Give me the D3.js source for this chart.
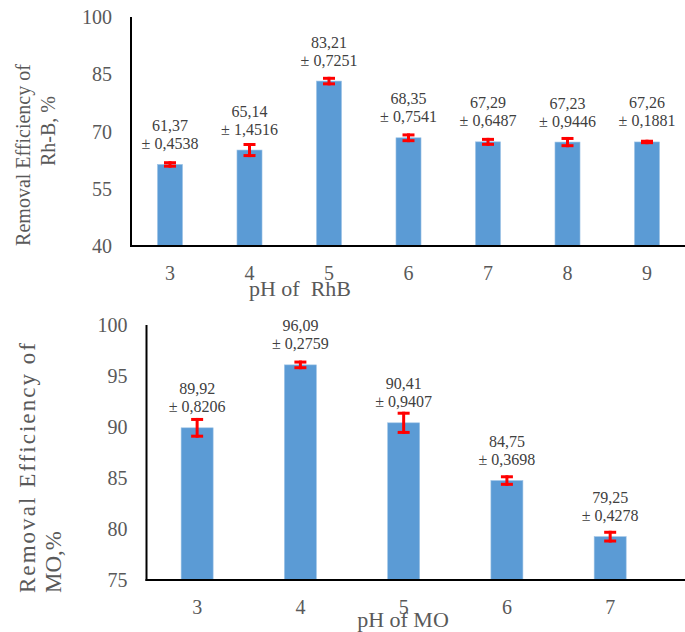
<!DOCTYPE html>
<html><head><meta charset="utf-8">
<script src="https://cdn.jsdelivr.net/npm/d3@7"></script>
<style>
html,body{margin:0;padding:0;background:#fff;}
svg{display:block;font-family:"Liberation Serif","Times New Roman",serif;}
text{white-space:pre;}
</style></head>
<body>
<svg id="chart" width="685" height="632"></svg>
<script>
// Top chart: Rh-B
const rhbPH = ["3","4","5","6","7","8","9"];
const rhbValues = [61.37, 65.14, 83.21, 68.35, 67.29, 67.23, 67.26];
const rhbErrors = [0.4538, 1.4516, 0.7251, 0.7541, 0.6487, 0.9446, 0.1881];
const rhbTicks = [40, 55, 70, 85, 100];
// Bottom chart: MO
const moPH = ["3","4","5","6","7"];
const moValues = [89.92, 96.09, 90.41, 84.75, 79.25];
const moErrors = [0.8206, 0.2759, 0.9407, 0.3698, 0.4278];
const moTicks = [75, 80, 85, 90, 95, 100];

const fmt = v => v.toString().replace(".", ",");
const fmtErr = v => "\u00B1 " + v.toFixed(4).replace(".", ",");

const svg = d3.select("#chart");

function drawChart(cfg) {
  const g = svg.append("g");
  const x = d3.scaleBand().domain(cfg.cats).range(cfg.xRange).padding(0);
  const y = d3.scaleLinear().domain(cfg.yDomain).range(cfg.yRange);
  const bw = x.bandwidth() * cfg.barFrac;
  const data = cfg.cats.map((c, i) => ({c, v: cfg.values[i], e: cfg.errors[i]}));

  // bars
  g.selectAll("rect.bar").data(data).enter().append("rect")
    .attr("x", d => x(d.c) + x.bandwidth()/2 - bw/2)
    .attr("y", d => y(d.v))
    .attr("width", bw)
    .attr("height", d => y(cfg.yDomain[0]) - y(d.v))
    .attr("fill", "#5B9BD5")
    .attr("stroke", "#9DC3E6").attr("stroke-width", 0.6);

  // error bars
  const eb = g.selectAll("g.err").data(data).enter().append("g")
    .attr("stroke", "#FF0000").attr("stroke-width", 3);
  eb.append("line")
    .attr("x1", d => x(d.c) + x.bandwidth()/2).attr("x2", d => x(d.c) + x.bandwidth()/2)
    .attr("y1", d => y(d.v + d.e) - 1.5).attr("y2", d => y(d.v - d.e) + 1.5);
  eb.append("line")
    .attr("x1", d => x(d.c) + x.bandwidth()/2 - 6).attr("x2", d => x(d.c) + x.bandwidth()/2 + 6)
    .attr("y1", d => y(d.v + d.e)).attr("y2", d => y(d.v + d.e));
  eb.append("line")
    .attr("x1", d => x(d.c) + x.bandwidth()/2 - 6).attr("x2", d => x(d.c) + x.bandwidth()/2 + 6)
    .attr("y1", d => y(d.v - d.e)).attr("y2", d => y(d.v - d.e));

  // data labels
  const lab = g.selectAll("g.lab").data(data).enter().append("g")
    .attr("fill", "#404040").attr("font-size", 16).attr("text-anchor", "middle");
  lab.append("text")
    .attr("x", d => x(d.c) + x.bandwidth()/2).attr("y", d => y(d.v) - 39)
    .attr("dominant-baseline", "central").text(d => fmt(d.v));
  lab.append("text")
    .attr("x", d => x(d.c) + x.bandwidth()/2).attr("y", d => y(d.v) - 21)
    .attr("dominant-baseline", "central").text(d => fmtErr(d.e));

  // axes lines
  const x0 = cfg.axisX, yb = y(cfg.yDomain[0]);
  g.append("line").attr("x1", x0).attr("x2", x0).attr("y1", y(cfg.yDomain[1])).attr("y2", yb + 1)
    .attr("stroke", "#000").attr("stroke-width", 2);
  g.append("line").attr("x1", x0 - 1).attr("x2", 685).attr("y1", yb).attr("y2", yb)
    .attr("stroke", "#000").attr("stroke-width", 2);

  // y tick labels
  g.selectAll("text.yt").data(cfg.ticks).enter().append("text")
    .attr("x", x0 - 19).attr("y", d => y(d)).attr("text-anchor", "end")
    .attr("dominant-baseline", "central").attr("font-size", 20).attr("fill", "#595959")
    .text(d => d);

  // x tick labels
  g.selectAll("text.xt").data(cfg.cats).enter().append("text")
    .attr("x", d => x(d) + x.bandwidth()/2).attr("y", yb + cfg.xTickDy).attr("text-anchor", "middle")
    .attr("dominant-baseline", "central").attr("font-size", 20).attr("fill", "#595959")
    .text(d => d);

  // x title
  g.append("text").attr("x", cfg.xTitlePos[0]).attr("y", cfg.xTitlePos[1])
    .attr("text-anchor", "middle").attr("dominant-baseline", "central")
    .attr("font-size", 22).attr("fill", "#595959").text(cfg.xTitle);

  // y title
  cfg.yTitle.forEach(t => {
    const tx = g.append("text")
      .attr("transform", `translate(${t.x},${t.y}) rotate(-90)`)
      .attr("text-anchor", t.anchor).attr("dominant-baseline", "central")
      .attr("font-size", t.size).attr("fill", "#595959").text(t.text);
    if (t.len) tx.attr("textLength", t.len).attr("lengthAdjust", "spacing");
  });
}

drawChart({
  cats: rhbPH, values: rhbValues, errors: rhbErrors, ticks: rhbTicks,
  xRange: [130.25, 686.75], yDomain: [40, 100], yRange: [246, 17],
  barFrac: 0.315, axisX: 131, xTickDy: 27,
  xTitle: "pH of  RhB", xTitlePos: [300, 288],
  yTitle: [
    {text: "Removal Efficiency of", x: 23, y: 155, anchor: "middle", size: 20},
    {text: "Rh-B, %", x: 48, y: 131, anchor: "middle", size: 20}
  ]
});

drawChart({
  cats: moPH, values: moValues, errors: moErrors, ticks: moTicks,
  xRange: [145.5, 661.8], yDomain: [75, 100], yRange: [580, 325],
  barFrac: 0.31, axisX: 146.5, xTickDy: 27,
  xTitle: "pH of MO", xTitlePos: [403, 619],
  yTitle: [
    {text: "Removal Efficiency of", x: 27, y: 593, anchor: "start", size: 23, len: 250},
    {text: "MO,%", x: 53, y: 593, anchor: "start", size: 23}
  ]
});
</script>
</body></html>
